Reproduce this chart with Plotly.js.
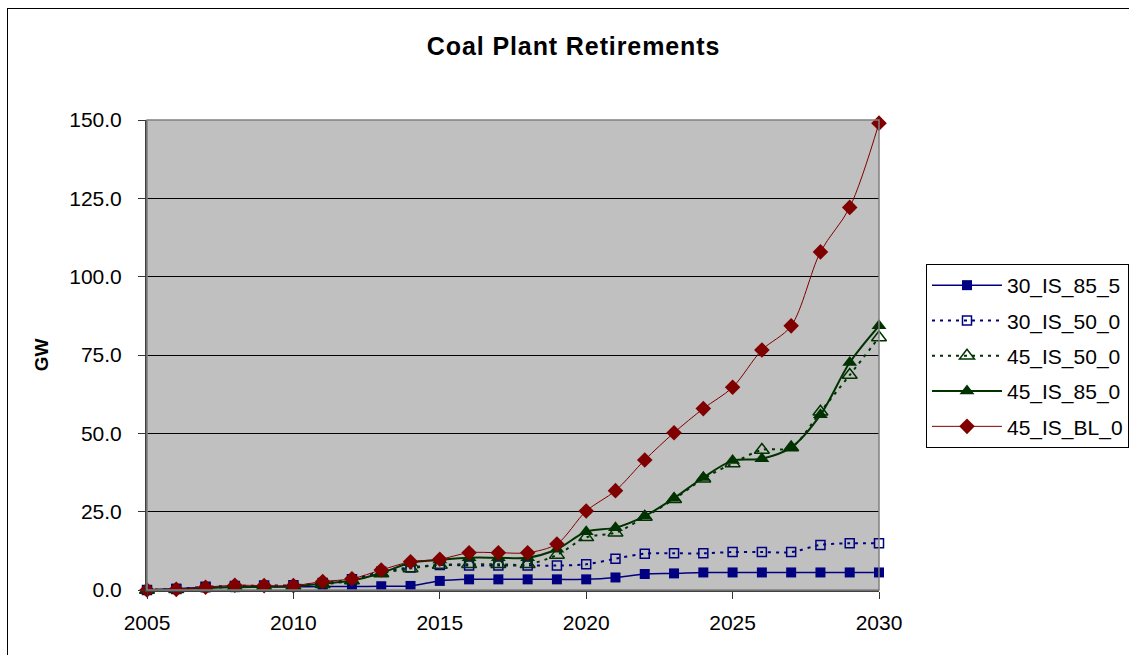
<!DOCTYPE html>
<html>
<head>
<meta charset="utf-8">
<script src="https://cdn.plot.ly/plotly-3.0.1.min.js"></script>
<style>
  html, body { margin: 0; padding: 0; background: #fff; overflow: hidden; }
  #wrap { position: relative; width: 1129px; height: 655px; }
  #chart { position: absolute; left: 0; top: 0; width: 1129px; height: 655px; }
  #frame { position: absolute; left: 7px; top: 8px; width: 1200px; height: 700px;
           border: 1px solid #000; pointer-events: none; }
  #chart .gtitle { letter-spacing: 0.9px; }
</style>
</head>
<body>
<div id="wrap">
  <div id="chart"></div>
  <div id="frame"></div>
</div>
<script>
// Years on the horizontal axis
const years = [2005, 2006, 2007, 2008, 2009, 2010, 2011, 2012, 2013, 2014, 2015, 2016, 2017,
               2018, 2019, 2020, 2021, 2022, 2023, 2024, 2025, 2026, 2027, 2028, 2029, 2030];

// Cumulative coal plant retirements (GW) per scenario
const s30_IS_85_5 = [0, 0.4, 0.8, 0.9, 1.0, 1.0, 1.1, 1.1, 1.2, 1.3, 2.9, 3.4, 3.4,
                     3.4, 3.4, 3.4, 4.0, 5.1, 5.3, 5.6, 5.6, 5.6, 5.6, 5.6, 5.6, 5.6];
const s30_IS_50_0 = [0, 0.3, 1.0, 1.3, 1.4, 1.5, 2.2, 3.4, 5.8, 7.2, 8.0, 7.8, 7.8,
                     7.8, 7.8, 8.2, 10.0, 11.6, 11.7, 11.7, 12.1, 12.1, 12.1, 14.4, 14.9, 14.9];
const s45_IS_50_0 = [0, 0.2, 0.7, 1.0, 1.1, 1.3, 1.8, 3.0, 5.3, 6.9, 8.0, 8.2, 8.2,
                     8.2, 11.2, 16.8, 18.3, 23.3, 29.0, 35.5, 40.4, 44.7, 45.5, 56.9, 68.6, 80.6];
const s45_IS_85_0 = [0, 0.2, 0.6, 0.9, 1.0, 1.2, 2.0, 3.0, 5.4, 8.7, 9.6, 10.3, 10.3,
                     10.3, 13.0, 18.6, 19.9, 23.6, 29.3, 35.9, 41.3, 41.9, 45.5, 55.9, 72.6, 84.3];
const s45_IS_BL_0 = [0, 0.2, 0.9, 1.5, 1.4, 1.4, 2.7, 3.6, 6.4, 9.0, 9.8, 11.9, 11.9,
                     11.9, 14.7, 25.2, 31.7, 41.5, 50.2, 57.9, 64.7, 76.6, 84.3, 107.9, 122.1, 149.0];

const seriesNames = ['30_IS_85_5', '30_IS_50_0', '45_IS_50_0', '45_IS_85_0', '45_IS_BL_0'];
const xTicks = [2005, 2010, 2015, 2020, 2025, 2030];
const yTicks = [0, 25, 50, 75, 100, 125, 150];

const NAVY = '#000080', GREEN = '#003300', MAROON = '#800000';
const FONT = 'Liberation Sans, Arial, sans-serif';

function series(name, y, line, marker, group) {
  return {
    x: years, y: y, name: name, type: 'scatter', mode: 'lines+markers',
    line: Object.assign({shape: 'spline', smoothing: 0.9}, line),
    marker: marker, legendgroup: group, cliponaxis: false
  };
}

const traces = [
  series(seriesNames[0], s30_IS_85_5, {color: NAVY, width: 1.5},
         {symbol: 'square', size: 10, color: NAVY}, 'g1'),
  series(seriesNames[1], s30_IS_50_0, {color: NAVY, width: 2, dash: '3px,5px'},
         {symbol: 'square-open', size: 9, color: NAVY, line: {width: 1.5, color: NAVY}}, 'g2'),
  series(seriesNames[2], s45_IS_50_0, {color: GREEN, width: 2, dash: '3px,5px'},
         {symbol: 'triangle-up-open', size: 13, color: GREEN, line: {width: 1.5, color: GREEN}}, 'g3'),
  series(seriesNames[3], s45_IS_85_0, {color: GREEN, width: 2},
         {symbol: 'triangle-up', size: 13, color: GREEN}, 'g4'),
  series(seriesNames[4], s45_IS_BL_0, {color: MAROON, width: 1},
         {symbol: 'diamond', size: 12, color: MAROON}, 'g5')
];

const layout = {
  width: 1129, height: 655,
  margin: {l: 147, r: 250, t: 120, b: 65, pad: 0, autoexpand: false},
  paper_bgcolor: '#ffffff',
  plot_bgcolor: '#c0c0c0',
  font: {family: FONT, size: 21, color: '#000'},
  title: {
    text: '<b>Coal Plant Retirements</b>',
    font: {family: FONT, size: 25, color: '#000'},
    x: 0.508, xanchor: 'center', y: 0.93, yanchor: 'middle'
  },
  xaxis: {
    range: [2005, 2030], tickmode: 'array', tickvals: xTicks,
    ticks: 'outside', ticklen: 7, tickwidth: 1, tickcolor: '#333',
    ticklabelstandoff: 6,
    showline: true, linecolor: '#404040', linewidth: 2,
    showgrid: false, zeroline: false,
    tickfont: {family: FONT, size: 21, color: '#000'}
  },
  yaxis: {
    range: [0, 150], tickmode: 'array', tickvals: yTicks,
    ticktext: yTicks.map(v => v.toFixed(1)),
    ticks: 'outside', ticklen: 7, tickwidth: 1, tickcolor: '#333',
    ticklabelstandoff: 12,
    showline: true, linecolor: '#404040', linewidth: 2,
    showgrid: true, gridcolor: '#000', gridwidth: 1,
    zeroline: false,
    tickfont: {family: FONT, size: 21, color: '#000'},
    title: {text: '<b>GW</b>', font: {family: FONT, size: 19, color: '#000'}, standoff: 16}
  },
  shapes: [
    {type: 'rect', xref: 'paper', yref: 'paper', x0: 0, x1: 1, y0: 0, y1: 1,
     line: {color: '#808080', width: 1.5}, layer: 'above'}
  ],
  legend: {
    x: 1.0642, xanchor: 'left', y: 0.6936, yanchor: 'top',
    bgcolor: '#ffffff', bordercolor: '#000', borderwidth: 1,
    font: {family: FONT, size: 21, color: '#000'},
    traceorder: 'grouped', tracegroupgap: 5, itemwidth: 70
  },
  showlegend: true
};

Plotly.newPlot('chart', traces, layout, {displayModeBar: false, staticPlot: true});
</script>
</body>
</html>
